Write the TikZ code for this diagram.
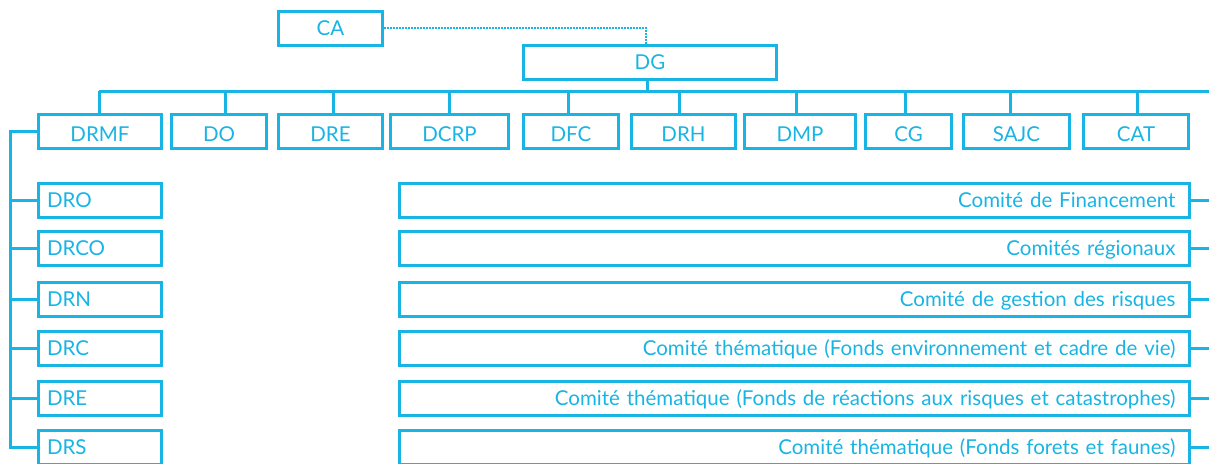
\documentclass[tikz,border=0pt]{standalone}
\usepackage{fontspec}
\setmainfont{Lato}
\usepackage{tikz}
\definecolor{orgblue}{RGB}{24,180,228}
\tikzset{
  box/.style={draw=orgblue,line width=3pt,text=orgblue,font=\fontsize{20.5}{24}\selectfont,
    minimum height=34pt,inner ysep=0pt,text height=14.8pt,text depth=0pt},
  topbox/.style={box,inner xsep=0pt},
  rowbox/.style={topbox,text height=20.8pt},
  leftbox/.style={box,minimum width=123pt,text width=106pt,inner xsep=8.5pt,align=left},
  rightbox/.style={box,text width=762pt,inner xsep=14pt,align=right},
  link/.style={draw=orgblue,line width=3pt},
  dotlink/.style={draw=orgblue,line width=2pt,dash pattern=on 1.5pt off 1.5pt}
}

\begin{document}
\begin{tikzpicture}[x=1pt,y=-1pt]
      \useasboundingbox (0,0) rectangle (1209,463);
      \coordinate (edge) at (1209,0);
      \coordinate (bus) at (99,91);
      \coordinate (spine) at (10.5,0);

      \node[topbox,minimum width=104pt] (CA) at (330.5,28) {CA};
      \node[topbox,minimum width=253pt] (DG) at (650,62.5) {DG};
      \draw[dotlink] (CA.east) -| ([xshift=-4pt]DG.north);

      \node[rowbox,minimum width=123pt] (DRMF) at (100,131) {DRMF};
      \node[rowbox,minimum width=95pt] (DO) at (219,131) {DO};
      \node[rowbox,minimum width=104pt] (DRE) at (330.5,131) {DRE};
      \node[rowbox,minimum width=118pt] (DCRP) at (449.5,131) {DCRP};
      \node[rowbox,minimum width=95pt] (DFC) at (571,131) {DFC};
      \node[rowbox,minimum width=104pt] (DRH) at (683.5,131) {DRH};
      \node[rowbox,minimum width=111pt] (DMP) at (800,131) {DMP};
      \node[rowbox,minimum width=86pt] (CG) at (908.5,131) {CG};
      \node[rowbox,minimum width=106pt] (SAJC) at (1016.5,131) {SAJC};
      \node[rowbox,minimum width=105pt] (CAT) at (1136,131) {CAT};

      \draw[link] (bus) -- (bus -| edge);
      \draw[link] ([xshift=-3pt]DG.south) -- ([xshift=-3pt]DG.south |- bus);
      \foreach \n/\dx in {DRMF/-1,DO/6,DRE/2.5,DCRP/-0.5,DFC/-3,DRH/-4.5,DMP/-4,CG/-3.5,SAJC/-6.5,CAT/1}
        \draw[link] ([xshift=\dx pt]\n.north) -- ([xshift=\dx pt]\n.north |- bus);

      \node[leftbox] (DRO) at (100,200.5) {DRO};
      \node[leftbox] (DRCO) at (100,248) {DRCO};
      \node[leftbox] (DRN) at (100,299.5) {DRN};
      \node[leftbox] (DRC) at (100,348) {DRC};
      \node[leftbox] (DREr) at (100,398.5) {DRE};
      \node[leftbox] (DRS) at (100,447) {DRS};

      \draw[link] (DRMF.west) -- (DRMF.west -| spine) -- (spine |- DRS.west) -- (DRS.west);
      \foreach \n in {DRO,DRCO,DRN,DRC,DREr}
        \draw[link] (\n.west) -- (\n.west -| spine);

      \node[rightbox] (C1) at (794.5,200.5) {Comité de Financement};
      \node[rightbox] (C2) at (794.5,248) {Comités régionaux};
      \node[rightbox] (C3) at (794.5,299.5) {Comité de gestion des risques};
      \node[rightbox] (C4) at (794.5,348) {Comité thématique (Fonds environnement et cadre de vie)};
      \node[rightbox] (C5) at (794.5,398.5) {Comité thématique (Fonds de réactions aux risques et catastrophes)};
      \node[rightbox] (C6) at (794.5,447) {Comité thématique (Fonds forets et faunes)};
      \foreach \n in {C1,C2,C3,C4,C5,C6}
        \draw[link] (\n.east) -- (\n.east -| edge);
    \end{tikzpicture}
\end{document}
